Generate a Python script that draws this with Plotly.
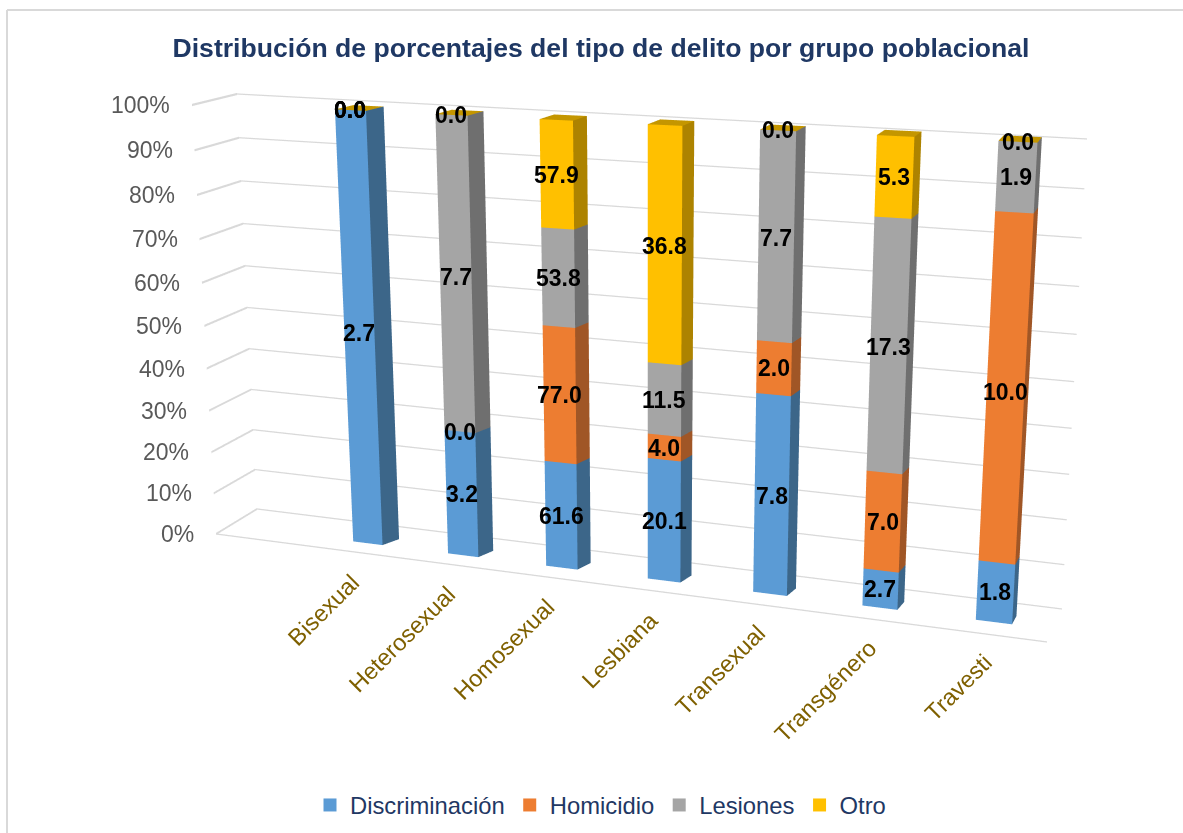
import numpy as np
import plotly.graph_objects as go

# ---- data ----
categorias = ["Bisexual", "Heterosexual", "Homosexual", "Lesbiana", "Transexual", "Transgénero", "Travesti"]
discriminacion = [2.7, 3.2, 61.6, 20.1, 7.8, 2.7, 1.8]
homicidio = [0.0, 0.0, 77.0, 4.0, 2.0, 7.0, 10.0]
lesiones = [0.0, 7.7, 53.8, 11.5, 7.7, 17.3, 1.9]
otro = [0.0, 0.0, 57.9, 36.8, 0.0, 5.3, 0.0]
nombres = ["Discriminación", "Homicidio", "Lesiones", "Otro"]
ticks = [t / 100 for t in range(0, 101, 10)]

# ---- colours ----
front = ["#5B9BD5", "#ED7D31", "#A5A5A5", "#FFC000"]
side = ["#3C6689", "#A05626", "#6F6F6F", "#AD8300"]
top_col = "#C49600"
GRID = "#D9D9D9"

# ---- page / camera ----
W, H = 1183, 833
CX, CY = 1100.0, 327.5      # centre of the 3D viewport, which sets the vanishing points
LEFT = 185
WF = 2 * CX - LEFT
EYE = (1.28250, -1.58344, 0.31554)
FWD = (-0.12529, 0.98613, -0.10885)
UP = (-0.07568, 0.09990, 0.99212)
ASP_X, ASP_Y = 2.04805, 0.08602
HW, Y_FRONT, Y_BACK, X_LEFT = 0.15641, 0.22724, 0.67681, -1.08859
BACK_STRETCH = 1.016        # rear edges of the columns rise slightly, as in the original projection

# wall corners (x, z) in axis units
FL0, FL1 = np.array([-1.0581, -0.0144]), np.array([-1.0313, 0.9925])
BL0, BL1 = np.array([-1.0659, 0.0184]), np.array([-1.0314, 1.0328])
BR0, BR1 = np.array([7.0283, 0.0144]), np.array([7.0036, 1.0200])
FR0 = np.array([6.9728, -0.0186])

FLAT = dict(ambient=1, diffuse=0, specular=0, fresnel=0, roughness=1)
fig = go.Figure()

# back wall grid and front floor edge
gx, gy, gz = [], [], []
for t in ticks:
    A_, B_ = BL0 + t * (BL1 - BL0), BR0 + t * (BR1 - BR0)
    gx += [A_[0], B_[0], None]; gy += [1, 1, None]; gz += [A_[1], B_[1], None]
gx += [FL0[0], FR0[0]]; gy += [0, 0]; gz += [FL0[1], FR0[1]]
fig.add_trace(go.Scatter3d(x=gx, y=gy, z=gz, mode="lines", line=dict(color=GRID, width=2.5),
                           showlegend=False, hoverinfo="skip"))

# side wall grid
vx, vy, vz, I, J_, K = [], [], [], [], [], []
dz = 0.0025
for t in ticks:
    P_, Q_ = FL0 + t * (FL1 - FL0), BL0 + t * (BL1 - BL0)
    n = len(vx)
    for (q, yy, s_) in [(P_, 0, -1), (Q_, 1, -1), (Q_, 1, 1), (P_, 0, 1)]:
        vx.append(q[0]); vy.append(yy); vz.append(q[1] + s_ * dz)
    I += [n, n]; J_ += [n + 1, n + 2]; K += [n + 2, n + 3]
fig.add_trace(go.Mesh3d(x=vx, y=vy, z=vz, i=I, j=J_, k=K, color=GRID, flatshading=True, lighting=FLAT,
                        hoverinfo="skip", showlegend=False))

# stacked columns, normalised to 100 %
series = [discriminacion, homicidio, lesiones, otro]
tot = np.sum(series, axis=0)
anns = []
base = np.zeros(len(categorias))
for s, vals in enumerate(series):
    pct = np.array(vals) / tot
    vx, vy, vz, I, J_, K, fc = [], [], [], [], [], [], []
    def quad(pts, col):
        n = len(vx)
        for q in pts:
            vx.append(q[0]); vy.append(q[1]); vz.append(q[2])
        I.extend([n, n]); J_.extend([n + 1, n + 2]); K.extend([n + 2, n + 3]); fc.extend([col, col])
    for i in range(len(categorias)):
        z0, z1 = base[i], base[i] + pct[i]
        x0, x1 = i + .5 - HW, i + .5 + HW
        y0, y1 = Y_FRONT, Y_BACK
        b0, b1 = z0 * BACK_STRETCH, z1 * BACK_STRETCH
        if pct[i] > 0:
            quad([(x0, y0, z0), (x1, y0, z0), (x1, y0, z1), (x0, y0, z1)], front[s])
            quad([(x1, y0, z0), (x1, y1, b0), (x1, y1, b1), (x1, y0, z1)], side[s])
        if s == len(series) - 1:
            quad([(x0, y0, 1), (x1, y0, 1), (x1, y1, BACK_STRETCH), (x0, y1, BACK_STRETCH)], top_col)
        anns.append(dict(x=i + .5, y=Y_FRONT, z=(z0 + z1) / 2, text=f"{vals[i]:.1f}", showarrow=False,
                         font=dict(family="Liberation Sans", size=23, color="black", weight="bold")))
    fig.add_trace(go.Mesh3d(x=vx, y=vy, z=vz, i=I, j=J_, k=K, facecolor=fc, flatshading=True, lighting=FLAT,
                            hoverinfo="skip", showlegend=False))
    base = base + pct

# legend entries
for s, n in enumerate(nombres):
    fig.add_trace(go.Scatter3d(x=[None], y=[None], z=[None], mode="markers", name=n,
                               marker=dict(symbol="square", size=13, color=front[s])))

# axis labels
for t in ticks:
    q = FL0 + t * (FL1 - FL0)
    anns.append(dict(x=q[0], y=0, z=q[1], text=f"{int(round(t * 100))}%", showarrow=False, xanchor="right", xshift=-20,
                     font=dict(family="Liberation Sans", size=23, color="#595959")))
for i, c in enumerate(categorias):
    anns.append(dict(x=i + .5, y=0, z=0, text=c, showarrow=False, textangle=-45, xanchor="right", yanchor="top",
                     xshift=8, yshift=-20, font=dict(family="Liberation Sans", size=23.5, color="#7F6000")))

ax = dict(visible=False, showgrid=False, zeroline=False, showbackground=False, showspikes=False)
rx = 7 - X_LEFT
fig.update_layout(
    width=WF, height=H, margin=dict(l=0, r=0, t=0, b=0), paper_bgcolor="white",
    title=dict(text="<b>Distribución de porcentajes del tipo de delito por grupo poblacional</b>",
               x=601 / WF, y=1 - 48 / H, xanchor="center", yanchor="middle",
               font=dict(family="Liberation Sans", size=26.6, color="#1F3864")),
    legend=dict(orientation="h", x=600.5 / WF, y=1 - 805 / H, xanchor="center", yanchor="middle",
                font=dict(family="Liberation Sans", size=23.8, color="#1F3864")),
    scene=dict(domain=dict(x=[LEFT / WF, 1], y=[1 - 2 * CY / H, 1]), bgcolor="white", aspectmode="manual",
               aspectratio=dict(x=ASP_X * (rx + 2) / rx, y=3 * ASP_Y, z=1.4),
               xaxis=dict(range=[X_LEFT - 1, 8], **ax), yaxis=dict(range=[-1, 2], **ax), zaxis=dict(range=[-.2, 1.2], **ax),
               camera=dict(eye=dict(x=EYE[0], y=EYE[1], z=EYE[2]),
                           center=dict(x=EYE[0] + FWD[0], y=EYE[1] + FWD[1], z=EYE[2] + FWD[2]),
                           up=dict(x=UP[0], y=UP[1], z=UP[2])),
               annotations=anns),
    shapes=[dict(type="line", xref="paper", yref="paper", x0=7 / WF, x1=7 / WF, y0=0, y1=1 - 10 / H, line=dict(color=GRID, width=2)),
            dict(type="line", xref="paper", yref="paper", x0=7 / WF, x1=1, y0=1 - 10 / H, y1=1 - 10 / H, line=dict(color=GRID, width=2))],
)
fig.write_html("out.html", config=dict(displayModeBar=False),
               post_script="document.body.style.margin='0';document.body.style.overflow='hidden';")
